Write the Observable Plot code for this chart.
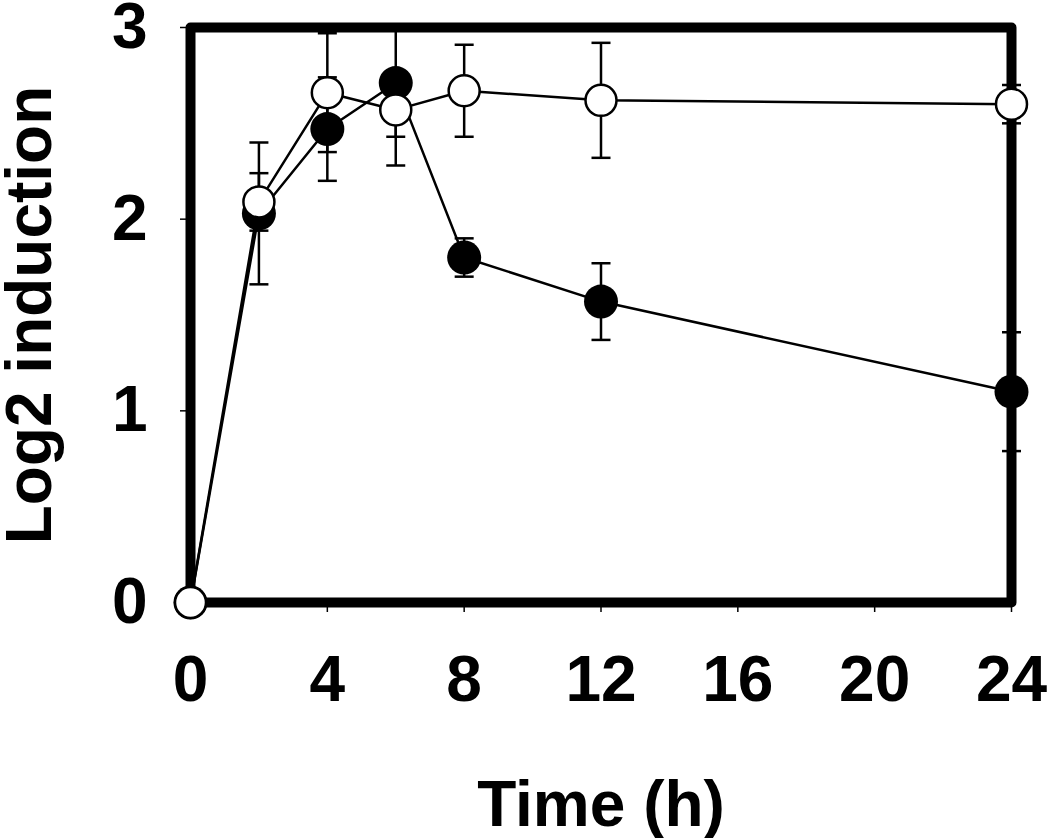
<!DOCTYPE html>
<html>
<head>
<meta charset="utf-8">
<script src="https://cdn.jsdelivr.net/npm/d3@7"></script>
<script src="https://cdn.jsdelivr.net/npm/@observablehq/plot@0.6"></script>
<style>
  html, body { margin: 0; padding: 0; background: #fff; }
</style>
</head>
<body>
<div id="chart"></div>
<script>
// Time points (h)
const times = [0, 2, 4, 6, 8, 12, 24];
// Filled-circle series: mean and error (± SD)
const filledMean = [0, 2.03, 2.47, 2.71, 1.80, 1.57, 1.10];
const filledErr  = [0, 0.37, 0.27, 0.43, 0.10, 0.20, 0.31];
// Open-circle series: mean and error (± SD)
const openMean = [0, 2.09, 2.66, 2.57, 2.67, 2.62, 2.60];
const openErr  = [0, 0.15, 0.31, 0.14, 0.24, 0.30, 0.10];
// Axis ticks
const xTicks = [0, 4, 8, 12, 16, 20, 24];
const yTicks = [0, 1, 2, 3];

const build = (means, errs) => times.map((t, i) => ({
  t, v: means[i], lo: means[i] - errs[i], hi: means[i] + errs[i], e: errs[i]
}));
const filled = build(filledMean, filledErr);
const open = build(openMean, openErr);

// horizontal-line symbol used for error bar caps
const capSymbol = {
  draw(ctx, size) {
    const r = Math.sqrt(size / Math.PI);
    ctx.moveTo(-r, 0);
    ctx.lineTo(r, 0);
  }
};

const errMarks = (data) => {
  const withErr = data.filter(d => d.e > 0);
  const caps = [];
  for (const d of withErr) {
    if (d.hi <= 3) caps.push({t: d.t, y: d.hi});
    if (d.lo >= 0) caps.push({t: d.t, y: d.lo});
  }
  return [
    Plot.ruleX(withErr, {x: "t", y1: "lo", y2: "hi", stroke: "black", strokeWidth: 2.5, clip: "frame"}),
    Plot.dot(caps, {x: "t", y: "y", symbol: capSymbol, r: 9.5, stroke: "black", strokeWidth: 2.5, fill: "none"})
  ];
};

const chart = Plot.plot({
  width: 1050,
  height: 838,
  marginLeft: 190,
  marginRight: 39,
  marginTop: 27,
  marginBottom: 236,
  style: {
    fontFamily: "'Liberation Sans', Arial, sans-serif",
    fontWeight: "bold",
    fontSize: "64px",
    color: "black",
    background: "white"
  },
  x: {domain: [0, 24]},
  y: {domain: [0, 3]},
  marks: [
    Plot.axisX({ticks: xTicks, tickSize: 10, tickPadding: 43, strokeWidth: 1.5, tickFormat: d => String(d),
      label: "Time (h)", labelAnchor: "center", labelOffset: 223, labelArrow: "none"}),
    Plot.axisY({ticks: yTicks, tickSize: 10, tickPadding: 33, strokeWidth: 1.5, tickFormat: d => String(d),
      label: "Log2 induction", labelAnchor: "center", labelOffset: 185, labelArrow: "none"}),
    Plot.frame({stroke: "black", strokeWidth: 10, strokeLinejoin: "round"}),
    Plot.line(filled, {x: "t", y: "v", stroke: "black", strokeWidth: 2.5}),
    Plot.line(open, {x: "t", y: "v", stroke: "black", strokeWidth: 2.5}),
    ...errMarks(filled),
    ...errMarks(open),
    Plot.dot(filled, {x: "t", y: "v", r: 17, fill: "black", stroke: "none"}),
    Plot.dot(open, {x: "t", y: "v", r: 15.5, fill: "white", stroke: "black", strokeWidth: 2.5})
  ]
});

document.getElementById("chart").appendChild(chart);
</script>
</body>
</html>
